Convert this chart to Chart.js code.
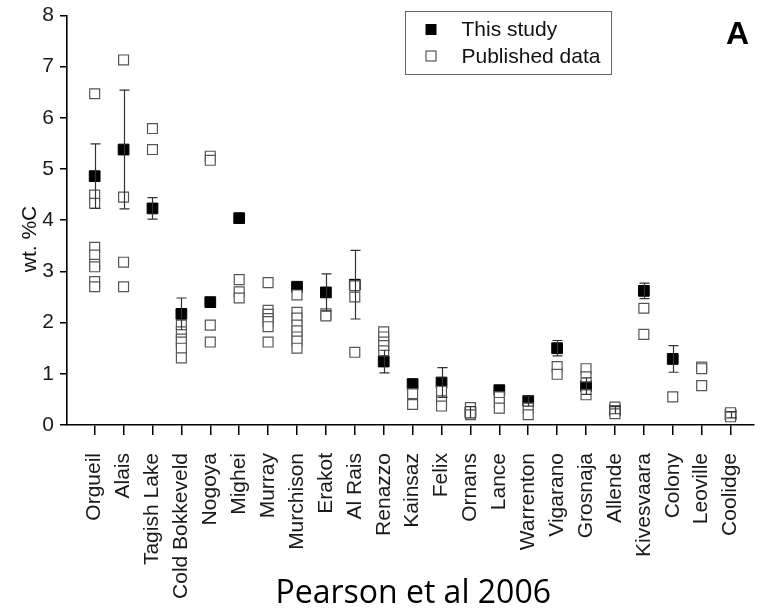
<!DOCTYPE html>
<html>
<head>
<meta charset="utf-8">
<script src="https://cdn.jsdelivr.net/npm/chart.js@4/dist/chart.umd.min.js"></script>
<style>
  html, body { margin: 0; padding: 0; background: #fff; }
  #wrap { width: 762px; height: 609px; }
</style>
</head>
<body>
<div id="wrap"><canvas id="c" width="762" height="609"></canvas></div>
<script>
// Carbonaceous chondrites, in plotting order
const categories = [
  'Orgueil', 'Alais', 'Tagish Lake', 'Cold Bokkeveld', 'Nogoya', 'Mighei',
  'Murray', 'Murchison', 'Erakot', 'Al Rais', 'Renazzo', 'Kainsaz', 'Felix',
  'Ornans', 'Lance', 'Warrenton', 'Vigarano', 'Grosnaja', 'Allende',
  'Kivesvaara', 'Colony', 'Leoville', 'Coolidge'
];

// wt. %C measured in this study (null = not measured)
const studyValues = [
  4.86, 5.38, 4.23, 2.17, 2.40, 4.04,
  null, 2.70, 2.59, 2.74, 1.24, 0.80, 0.83,
  0.25, 0.68, 0.47, 1.50, 0.76, 0.29,
  2.62, 1.29, null, 0.20
];

// One standard deviation on the measured values (null = no bar)
const studyErrors = [
  0.63, 1.16, 0.21, 0.31, null, null,
  null, null, 0.36, 0.67, 0.22, null, 0.29,
  0.11, null, 0.10, 0.15, 0.16, 0.07,
  0.15, 0.26, null, 0.06
];

// Literature wt. %C values for each meteorite
const publishedValues = [
  [6.47, 4.49, 4.33, 3.47, 3.32, 3.14, 3.09, 2.80, 2.70], // Orgueil
  [7.13, 4.45, 3.18, 2.70],                               // Alais
  [5.79, 5.38],                                           // Tagish Lake
  [1.95, 1.82, 1.68, 1.62, 1.50, 1.31],                   // Cold Bokkeveld
  [5.25, 5.17, 1.95, 1.62],                               // Nogoya
  [2.84, 2.60, 2.48],                                     // Mighei
  [2.78, 2.24, 2.16, 2.08, 2.02, 1.92, 1.62],             // Murray
  [2.54, 2.20, 2.09, 1.95, 1.84, 1.72, 1.64, 1.50],       // Murchison
  [2.17, 2.13],                                           // Erakot
  [2.72, 2.50, 1.42],                                     // Al Rais
  [1.82, 1.72, 1.62, 1.55, 1.45],                         // Renazzo
  [0.61, 0.40],                                           // Kainsaz
  [0.66, 0.47, 0.37],                                     // Felix
  [0.34, 0.20],                                           // Ornans
  [0.55, 0.44, 0.33],                                     // Lance
  [0.33, 0.20],                                           // Warrenton
  [1.14, 0.99],                                           // Vigarano
  [1.10, 0.94, 0.59],                                     // Grosnaja
  [0.35, 0.28, 0.22],                                     // Allende
  [2.28, 1.77],                                           // Kivesvaara
  [0.55],                                                 // Colony
  [1.13, 1.10, 0.77],                                     // Leoville
  [0.24, 0.16]                                            // Coolidge
];

const yTickValues = [0, 1, 2, 3, 4, 5, 6, 7, 8];
const seriesLabels = ['This study', 'Published data'];
const yAxisTitle = 'wt. %C';
const panelLetter = 'A';
const captionText = 'Pearson et al 2006';

// Build point lists from the arrays above
const studyPoints = [];
studyValues.forEach((v, i) => { if (v !== null) studyPoints.push({ x: i + 1, y: v }); });
const publishedPoints = [];
publishedValues.forEach((vals, i) => vals.forEach(v => publishedPoints.push({ x: i + 1, y: v })));

const tickFont = { family: "'Liberation Sans', Arial, sans-serif", size: 21 };

// Vertical error bars with caps, drawn on top of the markers
const errorBars = {
  id: 'errorBars',
  afterDatasetsDraw(chart) {
    const { ctx, scales: { x, y } } = chart;
    ctx.save();
    ctx.strokeStyle = '#333';
    ctx.lineWidth = 1.2;
    studyValues.forEach((v, i) => {
      const e = studyErrors[i];
      if (v === null || e === null) return;
      const px = Math.round(x.getPixelForValue(i + 1)) + 0.5;
      const top = y.getPixelForValue(v + e);
      const bot = y.getPixelForValue(v - e);
      ctx.beginPath();
      ctx.moveTo(px, top); ctx.lineTo(px, bot);
      ctx.moveTo(px - 5, top); ctx.lineTo(px + 5, top);
      ctx.moveTo(px - 5, bot); ctx.lineTo(px + 5, bot);
      ctx.stroke();
    });
    ctx.restore();
  }
};

// Framed legend, axis title, panel letter and caption
const decorations = {
  id: 'decorations',
  afterDraw(chart) {
    const ctx = chart.ctx;
    const area = chart.chartArea;
    const ds = chart.data.datasets;
    ctx.save();

    // legend frame
    ctx.strokeStyle = '#666';
    ctx.lineWidth = 1;
    ctx.strokeRect(405.5, 11.5, 206, 63);
    const rows = [
      { set: ds[1], y: 29.5 },
      { set: ds[0], y: 56 }
    ];
    rows.forEach(r => {
      const s = r.set.legendSize;
      ctx.fillStyle = r.set.backgroundColor;
      ctx.strokeStyle = r.set.borderColor;
      ctx.lineWidth = r.set.borderWidth;
      ctx.fillRect(431 - s / 2, r.y - s / 2, s, s);
      ctx.strokeRect(431 - s / 2, r.y - s / 2, s, s);
      ctx.fillStyle = '#111';
      ctx.font = "21px 'Liberation Sans', Arial, sans-serif";
      ctx.textAlign = 'left';
      ctx.textBaseline = 'middle';
      ctx.fillText(r.set.label, 461.5, r.y + 1);
    });

    // panel letter
    ctx.font = "bold 32px 'Liberation Sans', Arial, sans-serif";
    ctx.fillStyle = '#000';
    ctx.textAlign = 'center';
    ctx.textBaseline = 'middle';
    ctx.fillText(panelLetter, 737.5, 35);

    // y-axis title
    ctx.save();
    ctx.translate(30, 239);
    ctx.rotate(-Math.PI / 2);
    ctx.font = "21px 'Liberation Sans', Arial, sans-serif";
    ctx.fillStyle = '#111';
    ctx.fillText(yAxisTitle, 0, 0);
    ctx.restore();

    // caption
    ctx.font = "32px 'Open Sans', 'Noto Sans', sans-serif";
    ctx.fillStyle = '#000';
    ctx.textAlign = 'center';
    ctx.textBaseline = 'alphabetic';
    ctx.fillText(captionText, (area.left + area.right) / 2 + 3, 603);

    ctx.restore();
  }
};

new Chart(document.getElementById('c'), {
  type: 'scatter',
  data: {
    datasets: [
      {
        label: seriesLabels[1],
        data: publishedPoints,
        order: 0,
        pointStyle: 'rect',
        pointRadius: 7,
        pointHoverRadius: 7,
        backgroundColor: '#ffffff',
        borderColor: '#555555',
        borderWidth: 1.2,
        legendSize: 10
      },
      {
        label: seriesLabels[0],
        data: studyPoints,
        order: 1,
        pointStyle: 'rect',
        pointRadius: 7.6,
        pointHoverRadius: 7.6,
        backgroundColor: '#000000',
        borderColor: '#000000',
        borderWidth: 1,
        legendSize: 10
      }
    ]
  },
  options: {
    responsive: false,
    animation: false,
    devicePixelRatio: 1,
    events: [],
    layout: { padding: { top: 15.4, right: 0, bottom: 0, left: 0 } },
    plugins: {
      legend: { display: false },
      tooltip: { enabled: false },
      title: { display: false }
    },
    scales: {
      x: {
        type: 'linear',
        min: 0.043,
        max: 23.79,
        afterBuildTicks: s => { s.ticks = categories.map((_, i) => ({ value: i + 1 })); },
        afterFit: s => { s.height = 184; s.paddingLeft = 0; s.paddingRight = 0; },
        ticks: {
          autoSkip: false,
          minRotation: 90,
          maxRotation: 90,
          padding: 18,
          color: '#1a1a1a',
          font: tickFont,
          callback: v => categories[v - 1] ?? ''
        },
        grid: { drawOnChartArea: false, drawTicks: true, tickLength: 10, color: '#000', lineWidth: 1.5 },
        border: { display: true, color: '#000', width: 1.6 }
      },
      y: {
        min: 0,
        max: 8,
        afterBuildTicks: s => { s.ticks = yTickValues.map(v => ({ value: v })); },
        afterFit: s => { s.width = 67; s.paddingTop = 0; s.paddingBottom = 0; },
        ticks: { padding: 6, color: '#1a1a1a', font: tickFont },
        grid: { drawOnChartArea: false, drawTicks: true, tickLength: 7, color: '#000', lineWidth: 1.5 },
        border: { display: true, color: '#000', width: 1.6 }
      }
    }
  },
  plugins: [errorBars, decorations]
});
</script>
</body>
</html>
